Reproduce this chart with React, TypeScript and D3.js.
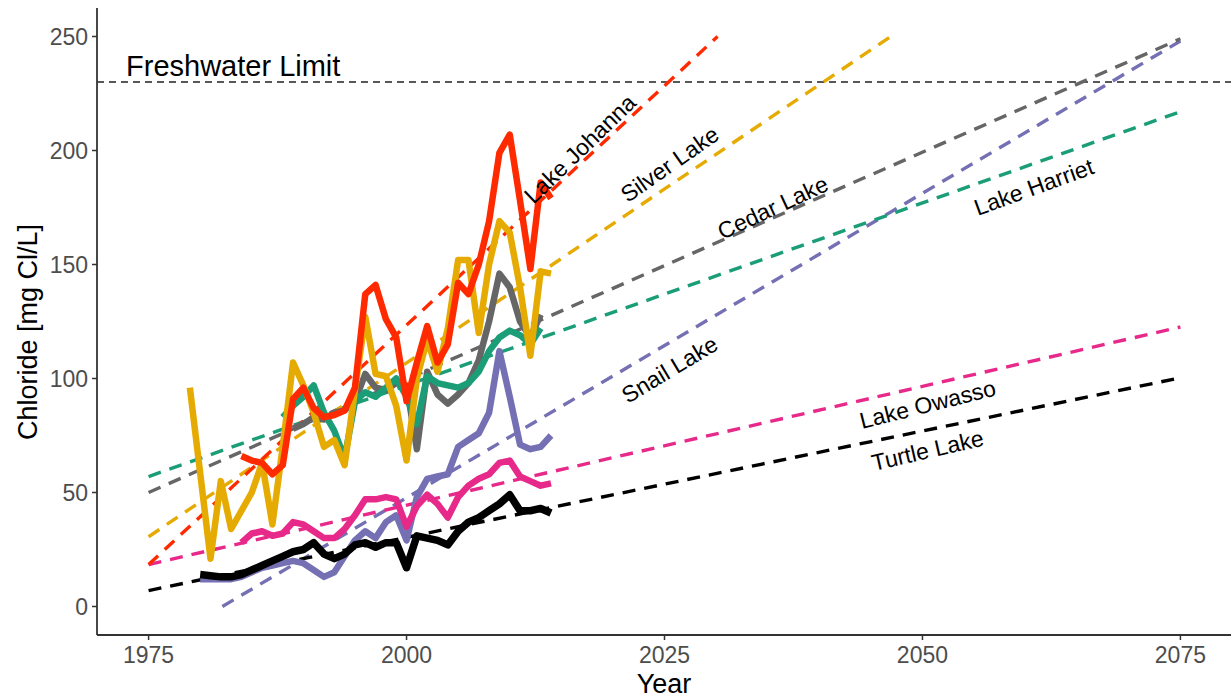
import React from "react";
import * as d3 from "d3";

// Chloride series
const silverYears = [1979, ...d3.range(1981, 2015)];
const silverVals = [96, 21, 55, 34, 42, 50, 63, 36, 70, 107, 97, 85, 70, 73, 62, 95, 127, 102, 101, 88, 64, 100, 117, 103, 122, 152, 152, 120, 150, 169, 164, 140, 110, 147, 146];

const johannaYears = d3.range(1984, 2015);
const johannaVals = [66, 64, 63, 58, 62, 91, 96, 87, 83, 84, 86, 96, 137, 141, 126, 118, 90, 107, 123, 107, 115, 142, 137, 150, 169, 199, 207, 178, 148, 186, 179];

const cedarYears = d3.range(1989, 2014);
const cedarVals = [78, 80, 83, 82, 85, 86, 90, 102, 96, 95, 98, 97, 69, 103, 93, 89, 93, 98, 108, 125, 146, 140, 125, 118, 128];

const harrietYears = d3.range(1988, 2014);
const harrietVals = [83, 88, 92, 97, 85, 77, 65, 90, 94, 92, 96, 100, 92, 80, 101, 98, 97, 96, 98, 103, 112, 118, 121, 119, 115, 122];

const snailYears = d3.range(1980, 2015);
const snailVals = [12, 12, 12, 12, 13, 15, 17, 18, 19, 20, 19, 16, 13, 15, 22, 29, 33, 30, 37, 40, 29, 48, 56, 57, 58, 70, 73, 76, 85, 112, 92, 71, 69, 70, 75];

const owassoYears = d3.range(1984, 2015);
const owassoVals = [28, 32, 33, 31, 32, 37, 36, 33, 30, 30, 34, 40, 47, 47, 48, 47, 35, 44, 49, 45, 39, 48, 53, 56, 58, 63, 64, 57, 55, 53, 54];

const turtleYears = d3.range(1980, 2015);
const turtleVals = [14, 13.5, 13, 13, 14, 16, 18, 20, 22, 24, 25, 28, 23, 21, 23, 27, 28, 26, 28, 28, 17, 31, 30, 29, 27, 33, 37, 39, 42, 45, 49, 42, 42, 43, 41];

// linear trend: value at 1975 and at 2075
const trendYears = [1975, 2075];
const lakes = ["Snail Lake", "Cedar Lake", "Lake Harriet", "Lake Owasso", "Turtle Lake", "Silver Lake", "Lake Johanna"];
const colors = ["#7570B3", "#666666", "#1B9E77", "#E7298A", "#000000", "#E6AB02", "#FF2A00"];
const trendAt1975 = [-19.1, 50, 57, 18.4, 7, 30.6, 18.4];
const trendAt2075 = [248, 249, 217, 122.6, 100.3, 335.6, 438.4];
const seriesYears = [snailYears, cedarYears, harrietYears, owassoYears, turtleYears, silverYears, johannaYears];
const seriesVals = [snailVals, cedarVals, harrietVals, owassoVals, turtleVals, silverVals, johannaVals];

// label placement (year, value, angle)
const labelYear = [2025.5, 2035.5, 2060.8, 2050.5, 2050.5, 2025.5, 2016.8];
const labelVal = [104, 175, 184, 88.7, 68.5, 194, 200.7];
const labelAngle = [-31, -25, -20, -14, -13, -35, -44];

const limitValue = 230;
const xTicks = [1975, 2000, 2025, 2050, 2075];
const yTicks = [0, 50, 100, 150, 200, 250];

const W = 1231;
const H = 698;
const FONT = "'Liberation Sans', Arial, sans-serif";

export default function App() {
  const margin = { top: 8, right: -1, bottom: 63, left: 97 };
  const x = d3.scaleLinear().domain([1970, 2080]).range([margin.left, W - margin.right]);
  const y = d3.scaleLinear().domain([-12.5, 262.5]).range([H - margin.bottom, margin.top]);
  const x0 = margin.left;
  const y0 = H - margin.bottom;

  const line = d3
    .line<[number, number]>()
    .x((d) => x(d[0]))
    .y((d) => y(d[1]));

  // clip trend to 0..250 like the original
  const trendPath = (i: number) => {
    const a = trendAt1975[i];
    const b = trendAt2075[i];
    const slope = (b - a) / (trendYears[1] - trendYears[0]);
    const yearAt = (v: number) => trendYears[0] + (v - a) / slope;
    const s = Math.max(trendYears[0], yearAt(0));
    const e = Math.min(trendYears[1], yearAt(250));
    const f = (t: number) => a + slope * (t - trendYears[0]);
    return line([
      [s, f(s)],
      [e, f(e)],
    ]);
  };

  return (
    <svg width={W} height={H} style={{ position: "absolute", left: 0, top: 0, background: "#fff" }} fontFamily={FONT}>
      {/* freshwater limit */}
      <line x1={x0} x2={W} y1={y(limitValue)} y2={y(limitValue)} stroke="#222" strokeWidth={1.5} strokeDasharray="7 5" />
      <text x={x(1983.2)} y={y(237)} fontSize={29} textAnchor="middle" dominantBaseline="central" fill="#000">
        Freshwater Limit
      </text>

      {/* trend lines */}
      {lakes.map((l, i) => (
        <path key={"t" + l} d={trendPath(i) || ""} fill="none" stroke={colors[i]} strokeWidth={3.4} strokeDasharray="13 9" />
      ))}

      {/* observed series */}
      {lakes.map((l, i) => (
        <path
          key={"s" + l}
          d={line(seriesYears[i].map((yr, j) => [yr, seriesVals[i][j]] as [number, number])) || ""}
          fill="none"
          stroke={colors[i]}
          strokeWidth={l === "Turtle Lake" ? 7.5 : 6.5}
          strokeLinejoin="round"
        />
      ))}

      {/* lake labels */}
      {lakes.map((l, i) => (
        <text
          key={"l" + l}
          transform={`translate(${x(labelYear[i])},${y(labelVal[i])}) rotate(${labelAngle[i]})`}
          fontSize={23}
          textAnchor="middle"
          dominantBaseline="central"
          fill="#000"
        >
          {l}
        </text>
      ))}

      {/* axes */}
      <line x1={x0} x2={x0} y1={margin.top} y2={y0} stroke="#333" strokeWidth={1.8} />
      <line x1={x0} x2={W} y1={y0} y2={y0} stroke="#333" strokeWidth={1.8} />
      {yTicks.map((t) => (
        <g key={"y" + t}>
          <line x1={x0 - 5} x2={x0} y1={y(t)} y2={y(t)} stroke="#333" strokeWidth={1.5} />
          <text x={x0 - 9} y={y(t)} fontSize={23} fill="#4D4D4D" textAnchor="end" dominantBaseline="central">
            {t}
          </text>
        </g>
      ))}
      {xTicks.map((t) => (
        <g key={"x" + t}>
          <line x1={x(t)} x2={x(t)} y1={y0} y2={y0 + 5} stroke="#333" strokeWidth={1.5} />
          <text x={x(t)} y={y0 + 20} fontSize={23} fill="#4D4D4D" textAnchor="middle" dominantBaseline="central">
            {t}
          </text>
        </g>
      ))}
      <text x={(x0 + W) / 2} y={693} fontSize={27} textAnchor="middle">
        Year
      </text>
      <text transform={`translate(28,332) rotate(-90)`} fontSize={27} textAnchor="middle" dominantBaseline="central">
        Chloride [mg Cl/L]
      </text>
    </svg>
  );
}
